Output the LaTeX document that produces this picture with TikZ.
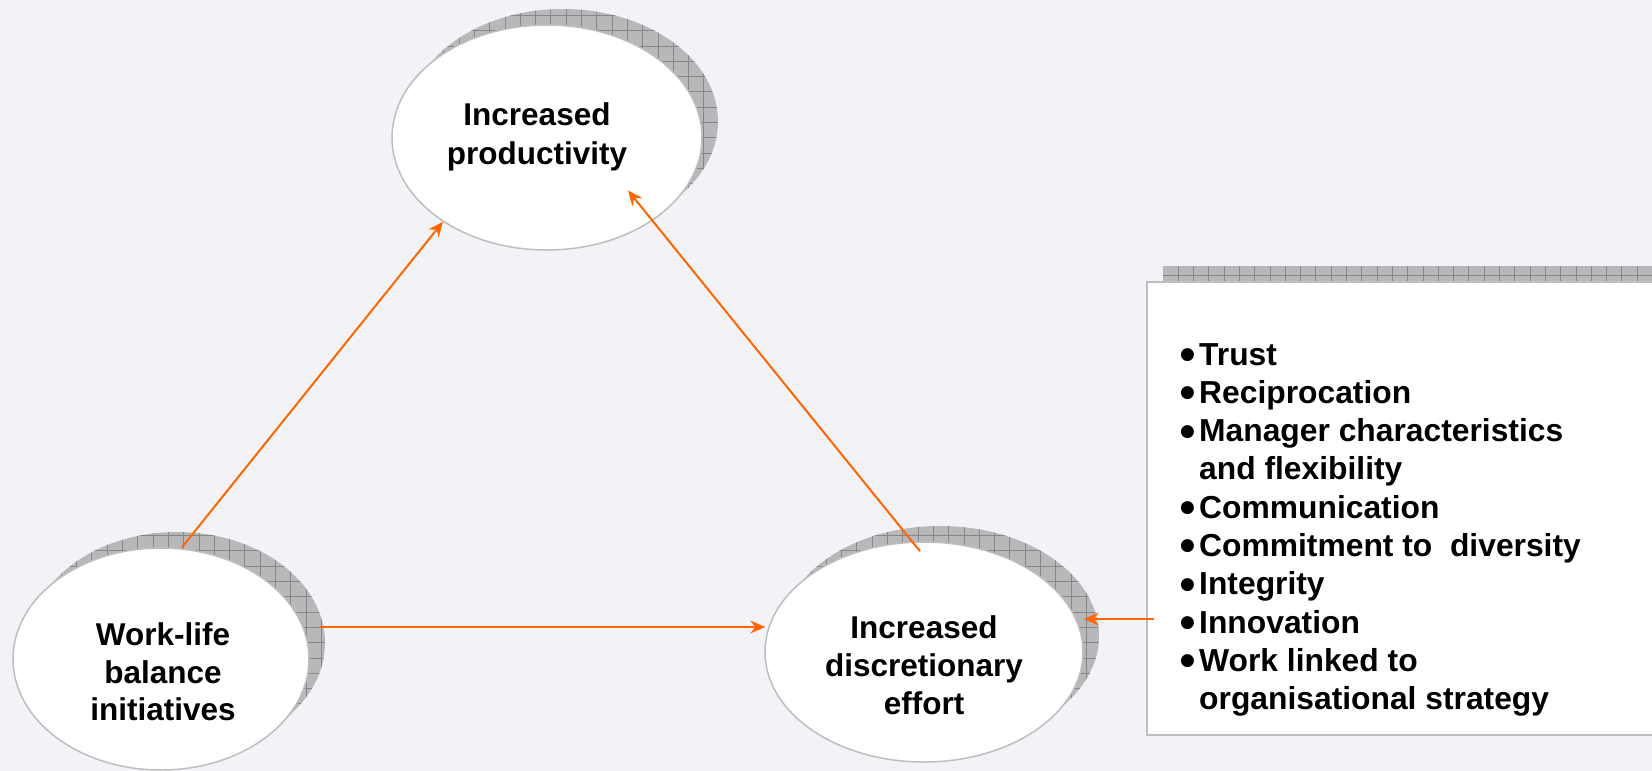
\documentclass[tikz,border=0pt]{standalone}
\usepackage{fontspec}
\setmainfont{Liberation Sans}
\newfontfamily\symfont{DejaVu Sans}
\usetikzlibrary{shapes.geometric,arrows.meta,calc}
\definecolor{bg}{RGB}{243,243,247}
\definecolor{shadowgray}{RGB}{184,184,186}
\definecolor{gridgray}{RGB}{135,135,138}
\definecolor{rimgray}{RGB}{190,190,192}
\definecolor{arrorange}{RGB}{255,102,0}
\tikzset{
  bubble/.style={ellipse, draw=rimgray, line width=1.5pt, fill=white, inner sep=0pt},
  panel/.style={rectangle, draw=rimgray, line width=2pt, fill=white, inner sep=0pt},
  lbl/.style={anchor=base, font=\fontsize{31.5}{38}\selectfont\bfseries, inner sep=0pt},
  item/.style={anchor=base west, font=\fontsize{31.8}{38}\selectfont\bfseries, inner sep=0pt},
  bul/.style={anchor=center, font=\symfont\fontsize{17}{17}\selectfont, inner sep=0pt},
  link/.style={draw=arrorange, line width=2pt, -{Stealth[length=15pt,width=13pt,inset=5pt]}},
  hatch/.style={draw=gridgray, line width=0.7pt},
}
\begin{document}
\begin{tikzpicture}[x=1pt,y=-1pt]
\useasboundingbox (0,0) rectangle (1652,771);
\fill[bg] (0,0) rectangle (1652,771);
% ellipse shadows
\foreach \cx/\cy/\rx/\ry in {563/121.5/155/112.5, 177/643/148/111, 940/636/159/110}{
  \begin{scope}
    \clip (\cx,\cy) ellipse [x radius=\rx pt, y radius=\ry pt];
    \fill[shadowgray] (\cx-\rx-2,\cy-\ry-2) rectangle (\cx+\rx+2,\cy+\ry+2);
    \draw[hatch] (\cx-\rx-20,\cy-\ry-20) grid[step=15.3pt] (\cx+\rx+20,\cy+\ry+20);
  \end{scope}
}
% box shadow
\begin{scope}
  \clip (1163,266) rectangle (1720,719);
  \fill[shadowgray] (1163,266) rectangle (1720,719);
  \draw[hatch] (1150,250) grid[step=15.3pt] (1720,730);
\end{scope}
% nodes
\node[bubble, minimum width=310pt, minimum height=225pt] (prod) at (547,137.5) {};
\node[bubble, minimum width=296pt, minimum height=222pt] (wl) at (161,659) {};
\node[bubble, minimum width=318pt, minimum height=220pt] (de) at (924,652) {};
\node[panel, minimum width=553pt, minimum height=453pt] (box) at (1423.5,508.5) {};
% labels
\node[lbl] (p1) at (537,125) {Increased};
\node[lbl] (p2) at (537,164) {productivity};
\node[lbl] (w1) at (163,645) {Work-life};
\node[lbl] (w2) at (163,683) {balance};
\node[lbl] (w3) at (163,720.5) {initiatives};
\node[lbl] (d1) at (924,638) {Increased};
\node[lbl] (d2) at (924,676.5) {discretionary};
\node[lbl] (d3) at (924,714) {effort};
% list
\foreach \i/\t in {0/Trust, 1/Reciprocation, 2/Manager characteristics, 4/Communication, 5/{Commitment to\ \ diversity}, 6/Integrity, 7/Innovation, 8/Work linked to}{
  \node[bul] (b\i) at (1187.5,355+38.3*\i) {●};
  \node[item] (t\i) at (1199,365+38.3*\i) {\t};
}
\node[item] (t3) at (1199,365+38.3*3) {and flexibility};
\node[item] (t9) at (1199,365+38.3*9) {organisational strategy};
% connectors
\draw[link] ($(wl.north)+(21,0)$) -- (prod.219.6);
\draw[link] ($(de.north)+(-4,10)$) -- ($(prod.center)+(81,53)$);
\draw[link] ($(wl.east)+(10,-32)$) -- ($(de.west)+(1,-25)$);
\draw[link] ($(box.west)+(8,110.5)$) -- ($(de.east)+(0,-33)$);
\end{tikzpicture}
\end{document}
